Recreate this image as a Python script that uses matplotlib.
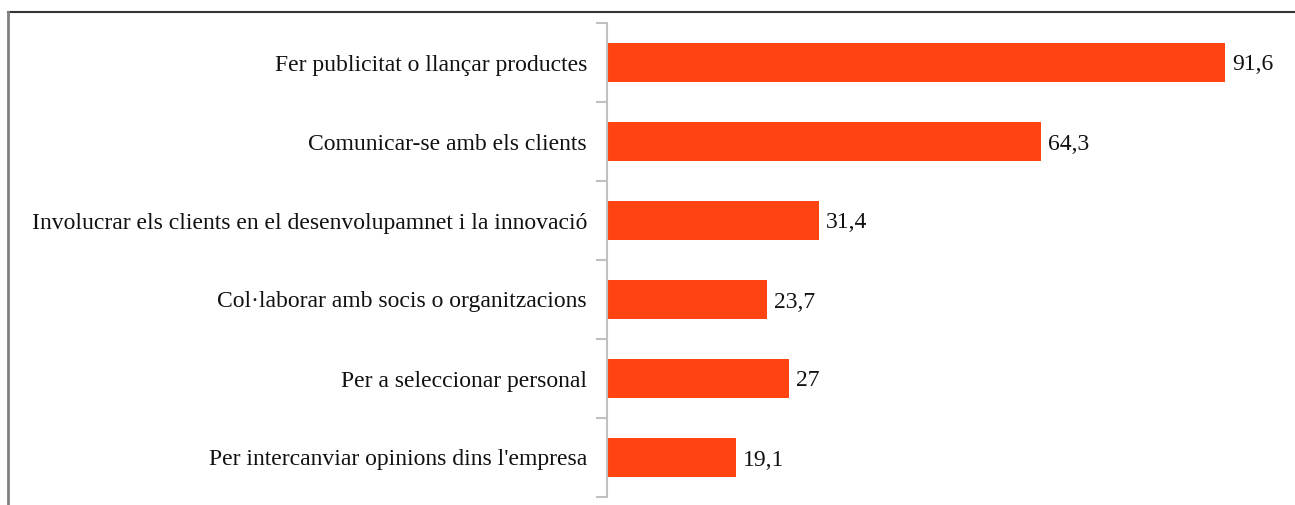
import numpy as np
import matplotlib
matplotlib.use("Agg")
import matplotlib.pyplot as plt
from matplotlib.lines import Line2D

categories = [
    "Fer publicitat o llançar productes",
    "Comunicar-se amb els clients",
    "Involucrar els clients en el desenvolupamnet i la innovació",
    "Col·laborar amb socis o organitzacions",
    "Per a seleccionar personal",
    "Per intercanviar opinions dins l'empresa",
]
values = [91.6, 64.3, 31.4, 23.7, 27, 19.1]
value_labels = ["91,6", "64,3", "31,4", "23,7", "27", "19,1"]

W, H = 1295, 505
plt.rcParams["font.family"] = ["Liberation Serif", "DejaVu Serif"]

fig = plt.figure(figsize=(W / 100, H / 100), dpi=100)
ax = fig.add_axes([607 / W, 1 - 497 / H, (1282 - 607) / W, (497 - 23) / H])

y = np.arange(len(categories))
ax.barh(y, values, height=0.5, color="#ff4411")
for yi, v, lab in zip(y, values, value_labels):
    ax.text(v + 1.0, yi, lab, va="center_baseline", ha="left", fontsize=17, color="#111111")

ax.set_xlim(0, 100)
ax.set_ylim(len(categories) - 0.5, -0.5)
ax.set_yticks(y)
ax.set_yticklabels(categories, fontsize=17, color="#111111", va="center_baseline")
ax.tick_params(axis="y", which="major", length=0, pad=14.4)
ax.set_yticks(np.arange(-0.5, len(categories)), minor=True)
ax.tick_params(axis="y", which="minor", length=8, width=1.5, color="#c0c0c0")
ax.set_xticks([])
for s in ["top", "right", "bottom"]:
    ax.spines[s].set_visible(False)
ax.spines["left"].set_color("#c0c0c0")
ax.spines["left"].set_linewidth(1.5)

# outer frame (top and left edges visible)
fig.add_artist(Line2D([7.5 / W, 1], [1 - 12 / H, 1 - 12 / H], transform=fig.transFigure,
                      color="#333333", linewidth=1.5))
fig.add_artist(Line2D([7.5 / W, 7.5 / W], [0, 1 - 12 / H], transform=fig.transFigure,
                      color="#808080", linewidth=2))

fig.savefig("out.png", dpi=100)
